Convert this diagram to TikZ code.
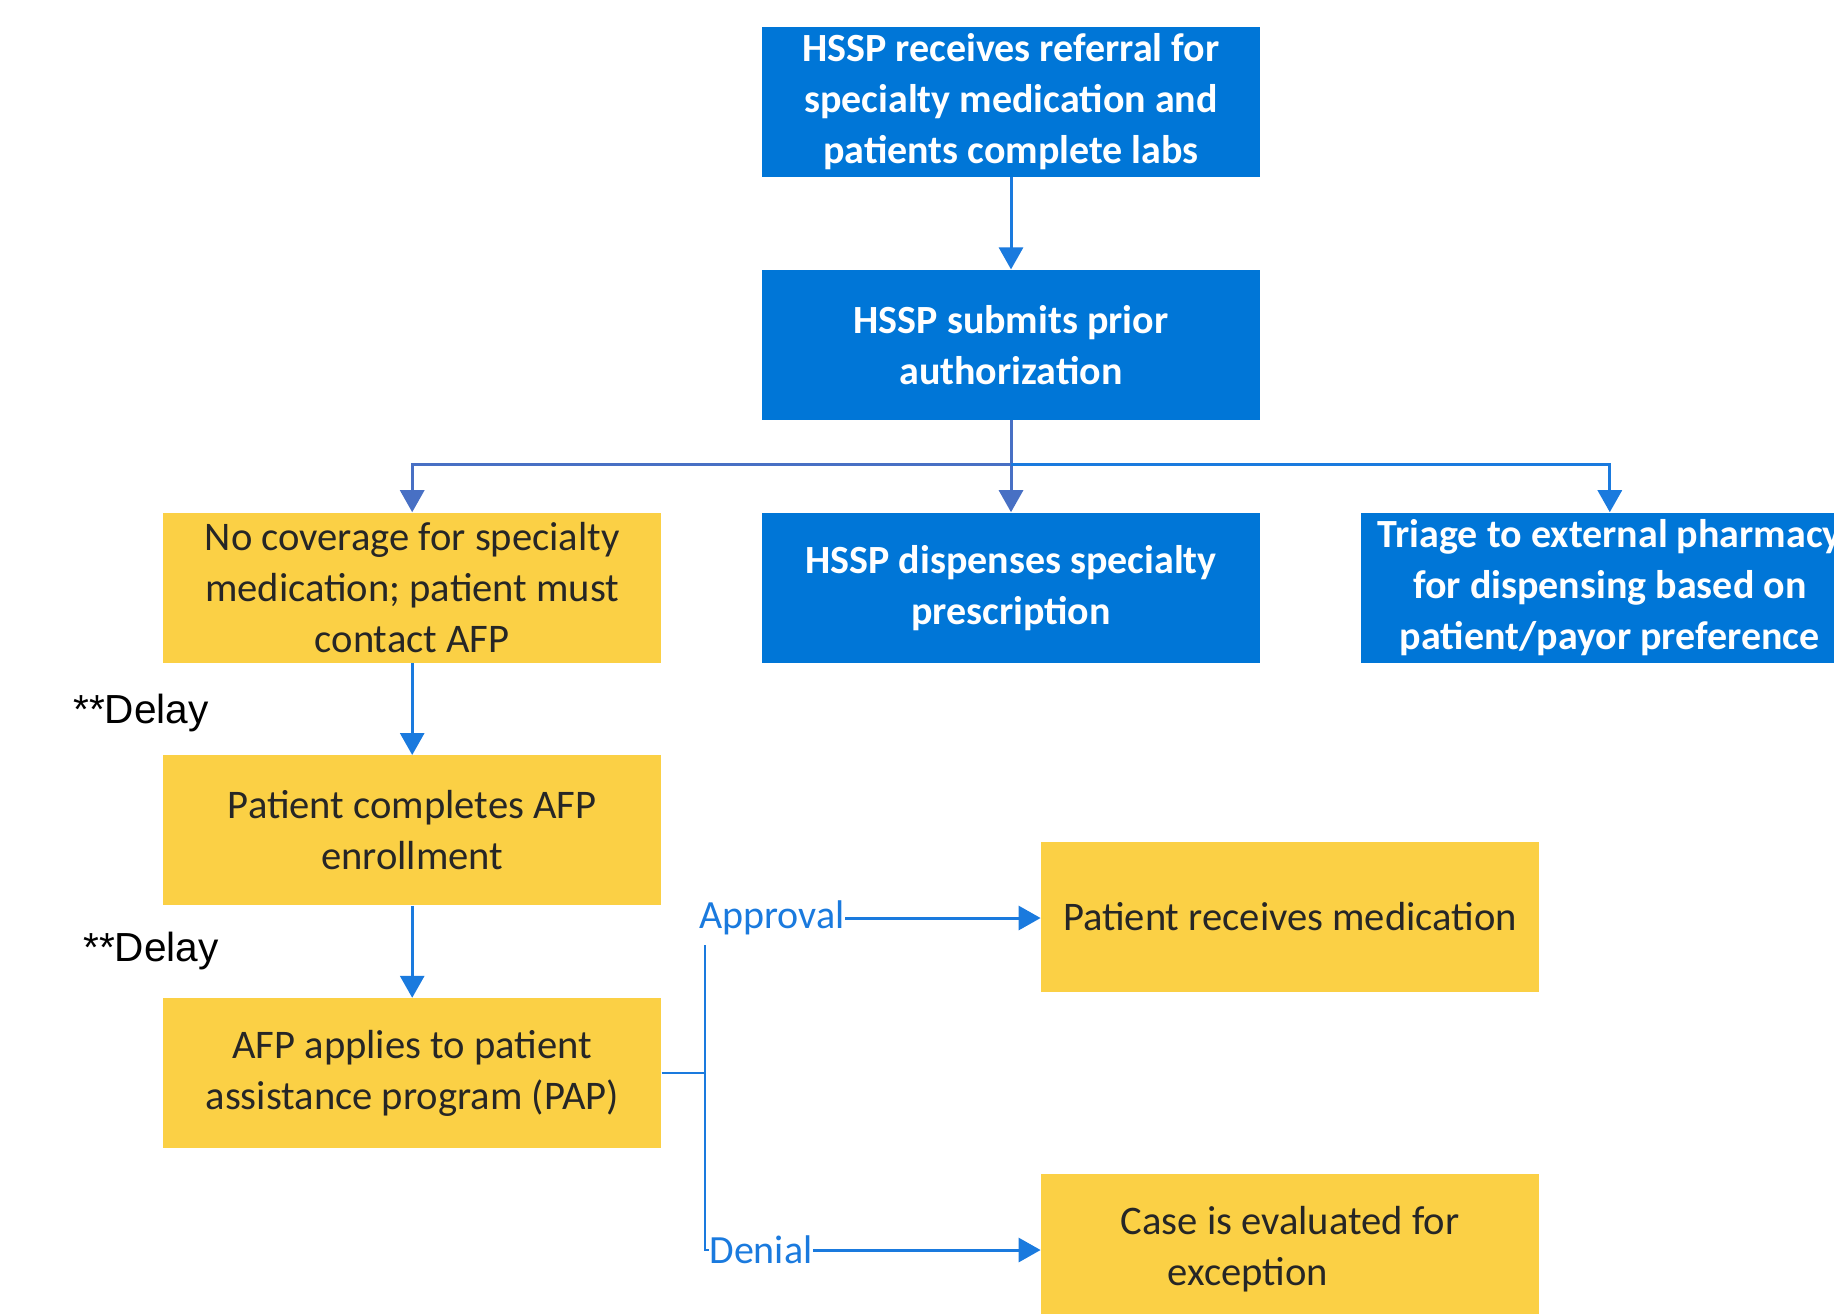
\documentclass[tikz,border=0pt]{standalone}
\usepackage{fontspec}
\setmainfont{Carlito}
\newfontfamily\delayfont{Liberation Sans}
\usetikzlibrary{positioning,arrows.meta}

\definecolor{boxblue}{RGB}{0,118,215}
\definecolor{boxyellow}{RGB}{251,208,69}
\definecolor{linkblue}{RGB}{26,122,222}
\definecolor{slateblue}{RGB}{72,112,196}
\definecolor{darktext}{RGB}{38,38,38}

\begin{document}
\begin{tikzpicture}[x=0.5pt,y=-0.5pt,
    node distance=46pt and 50pt,
    box/.style={rectangle,minimum width=249pt,minimum height=75pt,inner sep=0pt,align=center},
    blue box/.style={box,fill=boxblue,text=white,font=\fontsize{20}{25.5}\selectfont\bfseries},
    yellow box/.style={box,fill=boxyellow,text=darktext,font=\fontsize{20.3}{25.5}\selectfont},
    link/.style={draw=linkblue,line width=1.5pt,-{Triangle[length=11pt,width=12pt]}},
    slate link/.style={link,draw=slateblue},
    bracket/.style={draw=linkblue,line width=1pt},
    branch label/.style={text=linkblue,inner sep=0pt,font=\fontsize{20}{22}\selectfont},
    delay/.style={inner sep=0pt,font=\delayfont\fontsize{20.3}{24}\selectfont}]

  \path[use as bounding box,clip] (0,0) rectangle (1834,1313);

  % Define vertices
  \node[blue box] (ref) at (1011,102) {HSSP receives referral for\\specialty medication and\\patients complete labs};
  \node[blue box,below=of ref] (pa) {HSSP submits prior\\authorization};
  \node[blue box,below=of pa] (dispense) {HSSP dispenses specialty\\prescription};
  \node[yellow box,left=of dispense] (nocov) {No coverage for specialty\\medication; patient must\\contact AFP};
  \node[blue box,right=of dispense] (triage) {Triage to external pharmacy\\for dispensing based on\\patient/payor preference};
  \node[yellow box,below=of nocov] (enroll) {Patient completes AFP\\enrollment};
  \node[yellow box,below=of enroll] (pap) {AFP applies to patient\\assistance program (PAP)};
  \node[yellow box] (receive) at (1290,917) {Patient receives medication};
  \node[yellow box] (exception) at (1290,1249) {Case is evaluated for\\exception\hspace*{42pt}};

  \node[branch label,anchor=west] (approval) at (699,918) {Approval};
  \node[branch label,anchor=west] (denial) at (709,1250) {Denial};
  \node[delay] (delay1) at (141,713) {**Delay};
  \node[delay] (delay2) at (151,951) {**Delay};

  \coordinate[below=22pt of pa.south] (split);
  \coordinate[right=22pt of pap.east] (fork);
  \coordinate (bracket top) at (705,945);

  % Draw edges
  \draw[link] (ref) -- (pa);
  \draw[slate link] (pa) -- (dispense);
  \draw[slate link] (split) -| (nocov);
  \draw[link] (split) -| (triage);
  \draw[link] (nocov) -- (enroll);
  \draw[link] (enroll) -- (pap);
  \draw[bracket] (pap.east) -- (fork);
  \draw[bracket] (bracket top) |- (denial.west);
  \draw[link] (approval.east) -- (approval.east -| receive.west);
  \draw[link] (denial.east) -- (denial.east -| exception.west);

\end{tikzpicture}
\end{document}
